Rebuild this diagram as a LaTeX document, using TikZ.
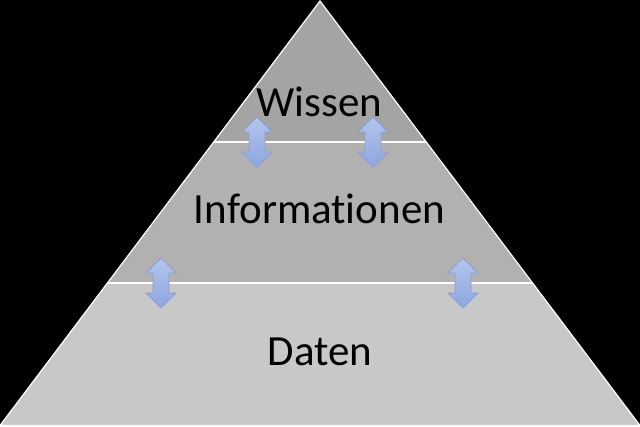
\documentclass[tikz,border=0pt]{standalone}
\usepackage{fontspec}
\setmainfont[Ligatures={NoCommon}]{Carlito}
\definecolor{bandtop}{HTML}{A4A4A4}
\definecolor{bandmid}{HTML}{B1B1B1}
\definecolor{bandlow}{HTML}{C8C8C8}
\definecolor{arrowtop}{HTML}{B3C5EE}
\definecolor{arrowbot}{HTML}{8EA6DF}
\definecolor{arrowline}{HTML}{8A9FD3}
\tikzset{
  label/.style={font=\fontsize{43}{47}\selectfont, text=black, inner sep=0pt, anchor=base},
  dblarrow/.pic={
    \path[draw=arrowline, line width=0.8pt, top color=arrowtop, bottom color=arrowbot]
      (0,25) -- (15,10) -- (8,10) -- (8,-10) -- (15,-10) -- (0,-25)
      -- (-15,-10) -- (-8,-10) -- (-8,10) -- (-15,10) -- cycle;
  }
}
\begin{document}
\begin{tikzpicture}[x=1pt,y=1pt]
\useasboundingbox (0,0) rectangle (640,426);
\fill[black] (0,0) rectangle (640,426);
\coordinate (L) at (0,0.5);
\coordinate (R) at (640,0.5);
\coordinate (T) at (320,425);
\begin{scope}
  \clip (L) -- (R) -- (T) -- cycle;
  \fill[bandlow] (0,0) rectangle (640,143);
  \fill[bandmid] (0,143) rectangle (640,284);
  \fill[bandtop] (0,284) rectangle (640,426);
  \draw[white, line width=1.5pt] (0,143) -- (640,143);
  \draw[white, line width=1.5pt] (0,284) -- (640,284);
\end{scope}
\draw[white, line width=1.2pt, line join=miter] (L) -- (R) -- (T) -- cycle;
\node[label] (wissen) at (319.5,309) {Wissen};
\node[label] (info) at (319.5,202) {Informationen};
\node[label] (daten) at (320,61) {Daten};
\pic at (257,284) {dblarrow};
\pic at (373,284) {dblarrow};
\pic at (161,143) {dblarrow};
\pic at (463,143) {dblarrow};
\end{tikzpicture}
\end{document}
